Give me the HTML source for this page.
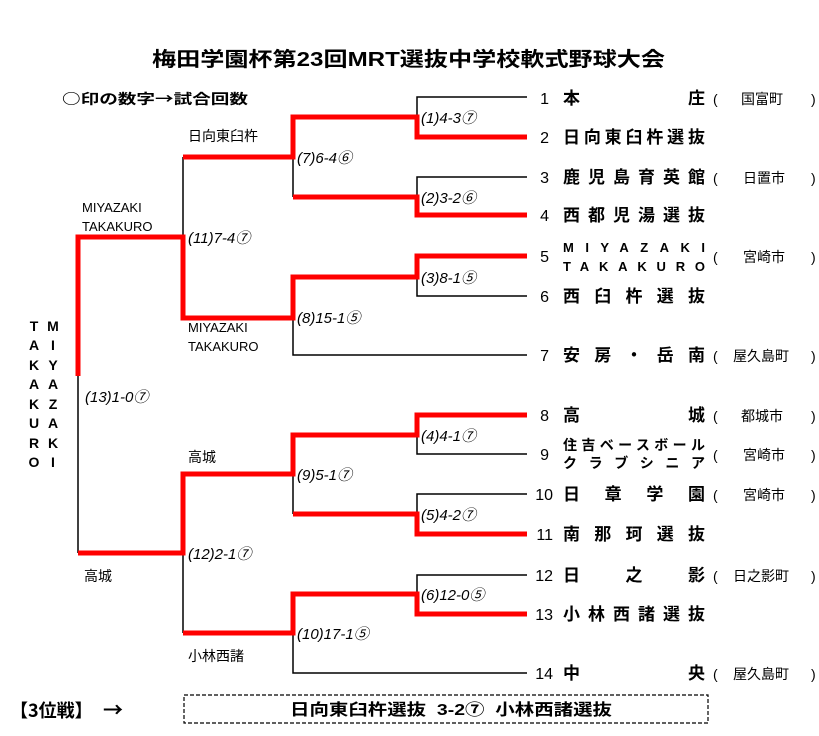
<!DOCTYPE html>
<html><head><meta charset="utf-8"><style>
html,body{margin:0;padding:0;background:#fff;}
svg{display:block;}
text{font-family:"Liberation Sans","Noto Sans CJK JP",sans-serif;fill:#000;}
.j{font-family:"Noto Sans CJK JP",sans-serif;}
.b{font-weight:bold;}
.s{font-style:italic;font-size:15px;}
.l{font-size:14px;}
.n{font-size:16px;}
.nm{font-size:17px;font-weight:bold;}
.c{font-size:14px;}
</style></head><body>
<svg width="819" height="736" viewBox="0 0 819 736" xmlns="http://www.w3.org/2000/svg">
<text x="152" y="66" class="b" font-size="20" textLength="513" lengthAdjust="spacingAndGlyphs">梅田学園杯第23回MRT選抜中学校軟式野球大会</text>
<text x="62" y="104" class="b j" font-size="14" textLength="186" lengthAdjust="spacingAndGlyphs">○印の数字→試合回数</text>

<g stroke="#000" stroke-width="1.5" fill="none">
<polyline points="527,97 417,97 417,117"/>
<polyline points="527,177 417,177 417,197"/>
<polyline points="527,296 417,296 417,277"/>
<polyline points="527,454 417,454 417,435"/>
<polyline points="527,494 417,494 417,514"/>
<polyline points="527,575 417,575 417,594"/>
<line x1="293" y1="157" x2="293" y2="197"/>
<polyline points="293,318 293,355 527,355"/>
<line x1="293" y1="474" x2="293" y2="514"/>
<polyline points="293,633 293,673 527,673"/>
<line x1="183" y1="157" x2="183" y2="237"/>
<line x1="183" y1="553" x2="183" y2="633"/>
<line x1="78" y1="376" x2="78" y2="553"/>
</g>

<g stroke="#f00" stroke-width="5" fill="none" stroke-linejoin="miter">
<polyline points="527,137 417,137 417,117 293,117 293,157 183,157"/>
<polyline points="527,215 417,215 417,197 293,197"/>
<polyline points="527,256 417,256 417,277 293,277 293,318 183,318 183,237 78,237 78,376"/>
<polyline points="527,415 417,415 417,435 293,435 293,474 183,474 183,553 78,553"/>
<polyline points="527,534 417,534 417,514 293,514"/>
<polyline points="527,614 417,614 417,594 293,594 293,633 183,633"/>
</g>

<g class="s">
<text x="421" y="123">(1)4-3⑦</text>
<text x="421" y="203">(2)3-2⑥</text>
<text x="421" y="283">(3)8-1⑤</text>
<text x="421" y="441">(4)4-1⑦</text>
<text x="421" y="520">(5)4-2⑦</text>
<text x="421" y="600">(6)12-0⑤</text>
<text x="297" y="163">(7)6-4⑥</text>
<text x="297" y="323">(8)15-1⑤</text>
<text x="297" y="480">(9)5-1⑦</text>
<text x="297" y="639">(10)17-1⑤</text>
<text x="188" y="243">(11)7-4⑦</text>
<text x="188" y="559">(12)2-1⑦</text>
<text x="85" y="402">(13)1-0⑦</text>
</g>

<g class="l">
<text x="188" y="141">日向東臼杵</text>
<text x="82" y="212" font-size="13">MIYAZAKI</text>
<text x="82" y="231" font-size="13">TAKAKURO</text>
<text x="188" y="332" font-size="13">MIYAZAKI</text>
<text x="188" y="351" font-size="13">TAKAKURO</text>
<text x="188" y="462">高城</text>
<text x="84" y="581">高城</text>
<text x="188" y="661">小林西諸</text>
</g>

<g class="b" font-size="14" text-anchor="middle">
<text x="34" y="331">T</text><text x="34" y="350">A</text><text x="34" y="370">K</text><text x="34" y="389">A</text><text x="34" y="409">K</text><text x="34" y="428">U</text><text x="34" y="448">R</text><text x="34" y="467">O</text>
<text x="53" y="331">M</text><text x="53" y="350">I</text><text x="53" y="370">Y</text><text x="53" y="389">A</text><text x="53" y="409">Z</text><text x="53" y="428">A</text><text x="53" y="448">K</text><text x="53" y="467">I</text>
</g>

<g class="n" text-anchor="end">
<text x="549" y="104">1</text><text x="549" y="143">2</text><text x="549" y="183">3</text><text x="549" y="221">4</text><text x="549" y="262">5</text><text x="549" y="302">6</text><text x="549" y="361">7</text>
<text x="549" y="421">8</text><text x="549" y="460">9</text><text x="553" y="500">10</text><text x="553" y="540">11</text><text x="553" y="581">12</text><text x="553" y="620">13</text><text x="553" y="679">14</text>
</g>

<g class="nm">
<text x="563" y="104" textLength="142" lengthAdjust="spacing">本庄</text>
<text x="563" y="143" textLength="142" lengthAdjust="spacing">日向東臼杵選抜</text>
<text x="563" y="183" textLength="142" lengthAdjust="spacing">鹿児島育英館</text>
<text x="563" y="221" textLength="142" lengthAdjust="spacing">西都児湯選抜</text>
<text x="563" y="252" font-size="13" textLength="142" lengthAdjust="spacing">MIYAZAKI</text>
<text x="563" y="271" font-size="13" textLength="142" lengthAdjust="spacing">TAKAKURO</text>
<text x="563" y="302" textLength="142" lengthAdjust="spacing">西臼杵選抜</text>
<text x="563" y="361" textLength="142" lengthAdjust="spacing">安房・岳南</text>
<text x="563" y="421" textLength="142" lengthAdjust="spacing">高城</text>
<text x="563" y="450" font-size="14" textLength="142" lengthAdjust="spacing">住吉ベースボール</text>
<text x="563" y="468" font-size="14" textLength="142" lengthAdjust="spacing">クラブシニア</text>
<text x="563" y="500" textLength="142" lengthAdjust="spacing">日章学園</text>
<text x="563" y="540" textLength="142" lengthAdjust="spacing">南那珂選抜</text>
<text x="563" y="581" textLength="142" lengthAdjust="spacing">日之影</text>
<text x="563" y="620" textLength="142" lengthAdjust="spacing">小林西諸選抜</text>
<text x="563" y="679" textLength="142" lengthAdjust="spacing">中央</text>
</g>

<g class="c" font-size="15">
<text x="713" y="104">(</text><text x="741" y="104">国富町</text><text x="811" y="104">)</text>
<text x="713" y="183">(</text><text x="743" y="183">日置市</text><text x="811" y="183">)</text>
<text x="713" y="262">(</text><text x="743" y="262">宮崎市</text><text x="811" y="262">)</text>
<text x="713" y="361">(</text><text x="733" y="361">屋久島町</text><text x="811" y="361">)</text>
<text x="713" y="421">(</text><text x="741" y="421">都城市</text><text x="811" y="421">)</text>
<text x="713" y="460">(</text><text x="743" y="460">宮崎市</text><text x="811" y="460">)</text>
<text x="713" y="500">(</text><text x="743" y="500">宮崎市</text><text x="811" y="500">)</text>
<text x="713" y="581">(</text><text x="733" y="581">日之影町</text><text x="811" y="581">)</text>
<text x="713" y="679">(</text><text x="733" y="679">屋久島町</text><text x="811" y="679">)</text>
</g>

<text x="10" y="717" class="b j" font-size="18">【3位戦】</text>
<text x="103" y="717" class="b j" font-size="20">→</text>
<rect x="184" y="695" width="524" height="28" fill="none" stroke="#000" stroke-width="1.2" stroke-dasharray="4,2"/>
<text x="290" y="715" class="b" font-size="16" textLength="322" lengthAdjust="spacingAndGlyphs">日向東臼杵選抜&#160;&#160;3-2⑦&#160;&#160;小林西諸選抜</text>
</svg>
</body></html>
